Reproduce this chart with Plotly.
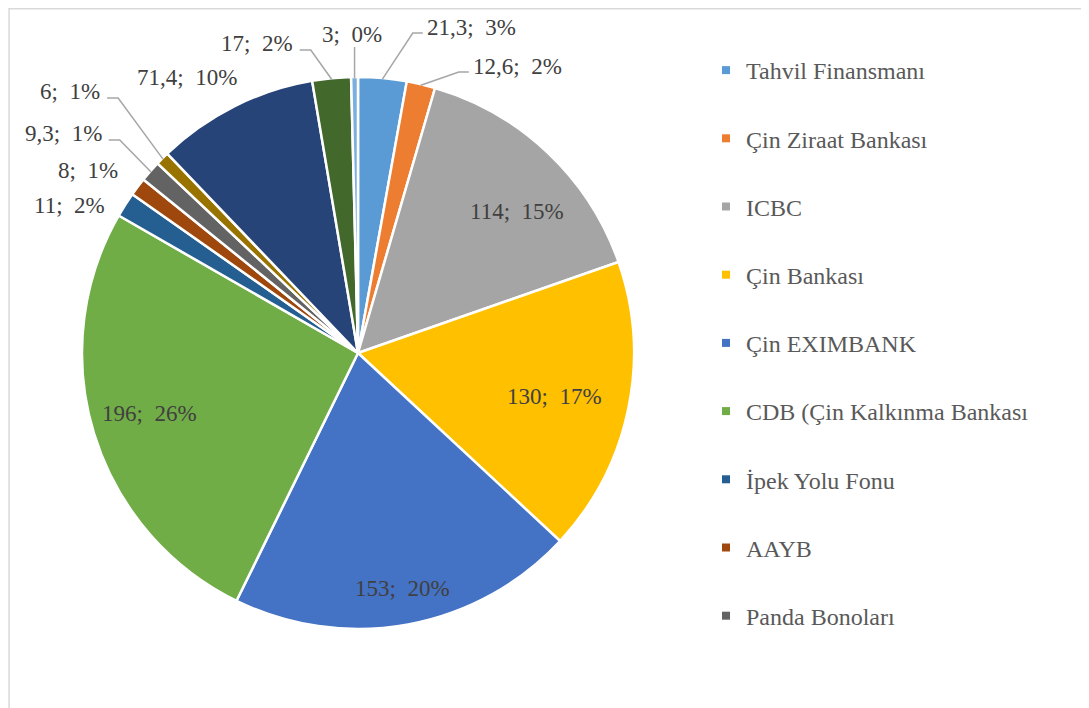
import math
import plotly.graph_objects as go

# ---- data ----
labels = ["Tahvil Finansmanı", "Çin Ziraat Bankası", "ICBC", "Çin Bankası",
          "Çin EXIMBANK", "CDB (Çin Kalkınma Bankası", "İpek Yolu Fonu", "AAYB",
          "Panda Bonoları", "Diğer 1", "Diğer 2", "Diğer 3", "Diğer 4"]
values = [21.3, 12.6, 114, 130, 153, 196, 11, 8, 9.3, 6, 71.4, 17, 3]
percents = [3, 2, 15, 17, 20, 26, 2, 1, 1, 1, 10, 2, 0]
legend_count = 9  # only the first nine entries are visible in the legend

# ---- styling ----
colors = ["#5B9BD5", "#ED7D31", "#A5A5A5", "#FFC000", "#4472C4", "#70AD47",
          "#255E91", "#9E480E", "#636363", "#997300", "#264478", "#43682B", "#7CAFDD"]

OFF = 8                      # page body margin of the html page
W, H = 1089 - OFF, 708 - OFF  # figure size so that it fills the window
CX, CY, R = 358, 353, 276     # pie centre / radius in window pixels
FONT = "Liberation Serif"
LABEL_FS = 23

# label placement: (angle deg clockwise from 12 o'clock, radius factor, leader line)
label_place = [
    (19.2, 1.247, True), (29.1, 1.186, True), (48.3, 0.77, False),
    (102.6, 0.73, False), (169.2, 0.87, False), (253.9, 0.785, False),
    (297.0, 1.175, False), (304.0, 1.18, False), (306.6, 1.331, True),
    (312.2, 1.408, True), (328.2, 1.176, False), (341.9, 1.178, True),
    (358.9, 1.156, True),
]

CHAR_W = {",": 0.25, ";": 0.278, " ": 0.25, "\u00a0": 0.25, "%": 0.833}


def text_width(s, fs):
    return sum(CHAR_W.get(c, 0.5) for c in s) * fs


def px(x, y):
    """window pixel -> paper coordinates"""
    return (x - OFF) / W, 1 - (y - OFF) / H


def fmt(v):
    return ("%g" % v).replace(".", ",")


fig = go.Figure()

x0p, y1p = px(CX - R, CY - R)
x1p, y0p = px(CX + R, CY + R)
fig.add_trace(go.Pie(
    labels=labels, values=values, sort=False, direction="clockwise", rotation=0,
    marker=dict(colors=colors, line=dict(color="white", width=2.5)),
    textinfo="none", hoverinfo="label+value+percent", showlegend=False,
    domain=dict(x=[x0p, x1p], y=[y0p, y1p]),
))

for i in range(legend_count):
    fig.add_trace(go.Scatter(
        x=[None], y=[None], mode="markers", name=labels[i], legendgroup=str(i),
        marker=dict(symbol="square", size=8, color=colors[i]), showlegend=True,
    ))

total = sum(values)
annotations, shapes = [], []
cum = 0.0
for i, v in enumerate(values):
    a0 = cum / total * 360
    cum += v
    a1 = cum / total * 360
    mid = math.radians((a0 + a1) / 2)
    ang, rf, leader = label_place[i]
    t = math.radians(ang)
    lx = CX + R * rf * math.sin(t)
    ly = CY - R * rf * math.cos(t)
    txt = f"{fmt(v)};\u00a0\u00a0{percents[i]}%"
    x, y = px(lx, ly)
    annotations.append(dict(x=x, y=y, xref="paper", yref="paper", text=txt,
                            showarrow=False, xanchor="center", yanchor="middle",
                            font=dict(family=FONT, size=LABEL_FS, color="#404040")))
    if leader:
        w = text_width(txt, LABEL_FS)
        ex = CX + (R - 1) * math.sin(mid)
        ey = CY - (R - 1) * math.cos(mid)
        if abs(lx - ex) < w / 2:
            pts = [(ex, ly + 13), (ex, ey)]
        elif lx > ex:
            sx = lx - w / 2 - 4
            pts = [(sx, ly + 5), (sx - 10, ly + 5), (ex, ey)]
        else:
            sx = lx + w / 2 + 7
            pts = [(sx, ly + 6), (sx + 11, ly + 6), (ex, ey)]
        path = "M " + " L ".join(f"{px(a, b)[0]:.5f},{px(a, b)[1]:.5f}" for a, b in pts)
        shapes.append(dict(type="path", path=path, xref="paper", yref="paper",
                           line=dict(color="#A6A6A6", width=1.5)))

# chart-area border
shapes.append(dict(type="rect", xref="paper", yref="paper",
                   x0=0.001, x1=0.999, y0=-0.01, y1=0.999,
                   line=dict(color="#D9D9D9", width=1.5), fillcolor="rgba(0,0,0,0)"))

lgx, lgy = px(706, 48)
fig.update_layout(
    width=W, height=H, margin=dict(l=0, r=0, t=0, b=0),
    paper_bgcolor="white", plot_bgcolor="white",
    xaxis=dict(visible=False), yaxis=dict(visible=False),
    annotations=annotations, shapes=shapes,
    legend=dict(x=lgx, y=lgy, xanchor="left", yanchor="top",
                font=dict(family=FONT, size=24, color="#595959"),
                tracegroupgap=34, bgcolor="rgba(0,0,0,0)", traceorder="grouped"),
    hovermode="closest",
)

fig.write_html("out.html")
